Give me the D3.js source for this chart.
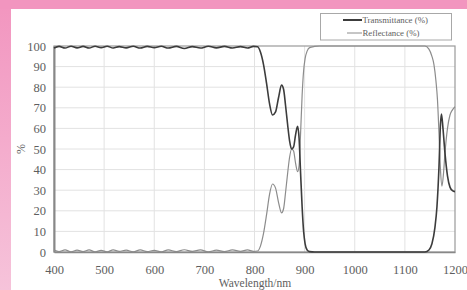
<!DOCTYPE html>
<html>
<head>
<meta charset="UTF-8" />
<title>Transmittance / Reflectance</title>
<script src="https://cdn.jsdelivr.net/npm/d3@7"></script>
<style>
  body { margin: 0; padding: 0; background: #fff; }
  svg { display: block; }
</style>
</head>
<body>
<div id="chart"></div>
<script>
  // Tick values
  const xTicks = [400, 500, 600, 700, 800, 900, 1000, 1100, 1200]
  const yTicks = [0, 10, 20, 30, 40, 50, 60, 70, 80, 90, 100]

  // Transmittance (%)
  const waveT = [400, 410, 422, 434, 446, 458, 470, 482, 494, 506, 518, 530, 544, 558, 572, 586,
    600, 614, 628, 644, 660, 676, 692, 708, 724, 740, 756, 772, 786, 798,
    806, 812, 818, 824, 830, 836, 842, 848, 854, 858, 862, 866, 870, 874, 878, 882, 886,
    889, 892, 895, 898, 901, 905, 910, 920, 1000, 1100, 1140, 1148, 1154, 1160, 1164, 1168,
    1171, 1173, 1176, 1180, 1185, 1190, 1195, 1200]
  const trans = [99.0, 99.8, 99.0, 99.9, 99.1, 99.8, 99.0, 99.9, 99.2, 99.9, 99.0, 99.7, 99.1, 99.9, 99.0, 99.8,
    99.2, 99.9, 99.0, 99.8, 98.8, 99.7, 99.0, 99.9, 99.1, 99.8, 99.0, 99.7, 99.0, 99.8,
    99.6, 97, 91, 82, 72, 66.5, 68, 75, 81, 79, 71, 62, 54, 50, 51, 57, 61,
    55, 38, 22, 10, 4, 1, 0.2, 0, 0, 0, 0, 1, 4, 12, 22, 41,
    62, 67, 60, 48, 37, 31.5, 29.8, 29.3]

  // Reflectance (%)
  const waveR = [400, 410, 422, 434, 446, 458, 470, 482, 494, 506, 518, 530, 544, 558, 572, 586,
    600, 614, 628, 644, 660, 676, 692, 708, 724, 740, 756, 772, 786, 798,
    806, 812, 818, 824, 830, 836, 842, 848, 854, 858, 862, 866, 870, 874, 878, 882, 886,
    889, 892, 895, 898, 901, 905, 910, 920, 930, 1000, 1100, 1140, 1148, 1154, 1158, 1162, 1165,
    1168, 1171, 1174, 1177, 1180, 1185, 1190, 1195, 1200]
  const refl = [0.9, 0.2, 1.0, 0.1, 0.9, 0.2, 1.0, 0.1, 0.8, 0.1, 1.0, 0.3, 0.9, 0.1, 1.0, 0.2,
    0.8, 0.1, 1.0, 0.2, 1.1, 0.3, 1.0, 0.1, 0.9, 0.2, 1.0, 0.3, 1.0, 0.3,
    0.5, 3, 9, 18, 28, 33, 31, 24, 19, 21, 29, 38, 46, 50, 49, 43, 39,
    42, 58, 76, 88, 94, 97.5, 99.2, 99.8, 100, 100, 100, 100, 98.5, 95, 91, 83, 74,
    58, 40, 32, 38, 48, 60, 66.5, 69, 70.5]

  const W = 467, H = 290
  const svg = d3.select('#chart').append('svg')
    .attr('width', W).attr('height', H)

  // pink frame
  const defs = svg.append('defs')
  const grad = defs.append('linearGradient').attr('id', 'pinkSide')
    .attr('x1', 0).attr('y1', 0).attr('x2', 0).attr('y2', 1)
  grad.append('stop').attr('offset', '0%').attr('stop-color', '#f295bf')
  grad.append('stop').attr('offset', '100%').attr('stop-color', '#f6c3da')
  svg.append('rect').attr('x', 0).attr('y', 0).attr('width', 11).attr('height', H).attr('fill', 'url(#pinkSide)')
  svg.append('rect').attr('x', 0).attr('y', 0).attr('width', W).attr('height', 9).attr('fill', '#f295bf')

  const x = d3.scaleLinear().domain([400, 1200]).range([54, 455])
  const y = d3.scaleLinear().domain([0, 100]).range([252, 46])

  const font = '"Liberation Serif", "Times New Roman", serif'
  const textCol = '#5e5e5e'

  // grid
  svg.append('g').selectAll('line').data(yTicks.slice(1, -1)).join('line')
    .attr('x1', x(400)).attr('x2', x(1200))
    .attr('y1', d => y(d)).attr('y2', d => y(d))
    .attr('stroke', '#e2e2e2').attr('stroke-width', 1)
  svg.append('g').selectAll('line').data(xTicks.slice(1, -1)).join('line')
    .attr('y1', y(0)).attr('y2', y(100))
    .attr('x1', d => x(d)).attr('x2', d => x(d))
    .attr('stroke', '#e2e2e2').attr('stroke-width', 1)

  // plot border
  svg.append('rect')
    .attr('x', x(400)).attr('y', y(100))
    .attr('width', x(1200) - x(400)).attr('height', y(0) - y(100))
    .attr('fill', 'none').attr('stroke', '#9a9a9a').attr('stroke-width', 1.2)

  // axes
  const yAxis = d3.axisLeft(y).tickValues(yTicks).tickSize(0).tickPadding(8)
  const gy = svg.append('g').attr('transform', `translate(${x(400)},0)`).call(yAxis)
  const xAxis = d3.axisBottom(x).tickValues(xTicks).tickSize(0).tickPadding(13).tickFormat(d3.format('d'))
  const gx = svg.append('g').attr('transform', `translate(0,${y(0)})`).call(xAxis)
  gy.select('.domain').attr('stroke', '#888').attr('stroke-width', 2)
  gx.select('.domain').attr('stroke', '#888').attr('stroke-width', 1.5)
  svg.selectAll('.tick text')
    .attr('font-family', font).attr('font-size', 12.5).attr('fill', textCol)

  // axis titles
  svg.append('text')
    .attr('transform', 'translate(25,149) rotate(-90)')
    .attr('text-anchor', 'middle')
    .attr('font-family', font).attr('font-size', 12).attr('fill', textCol)
    .text('%')
  svg.append('text')
    .attr('x', 255).attr('y', 287)
    .attr('text-anchor', 'middle')
    .attr('font-family', font).attr('font-size', 11.5).attr('fill', textCol)
    .text('Wavelength/nm')

  // curves
  const line = d3.line()
    .x(d => x(d[0])).y(d => y(d[1]))
    .curve(d3.curveMonotoneX)

  svg.append('path')
    .datum(d3.zip(waveR, refl))
    .attr('d', line)
    .attr('fill', 'none').attr('stroke', '#8c8c8c').attr('stroke-width', 1.2)
  svg.append('path')
    .datum(d3.zip(waveT, trans))
    .attr('d', line)
    .attr('fill', 'none').attr('stroke', '#3c3c3c').attr('stroke-width', 1.6)

  // legend
  const lg = svg.append('g')
  lg.append('rect').attr('x', 320.5).attr('y', 13.5).attr('width', 131).attr('height', 26.5)
    .attr('fill', '#fff').attr('stroke', '#a8a8a8').attr('stroke-width', 1)
  const legendItems = [
    { name: 'Transmittance (%)', color: '#3c3c3c', w: 2, x0: 343, y: 20 },
    { name: 'Reflectance (%)', color: '#8c8c8c', w: 1, x0: 347, y: 33 }
  ]
  legendItems.forEach(it => {
    lg.append('line').attr('x1', it.x0).attr('x2', 362).attr('y1', it.y).attr('y2', it.y)
      .attr('stroke', it.color).attr('stroke-width', it.w)
    lg.append('text').attr('x', 362.5).attr('y', it.y + 3)
      .attr('font-family', font).attr('font-size', 8.8).attr('fill', textCol)
      .text(it.name)
  })
</script>
</body>
</html>
